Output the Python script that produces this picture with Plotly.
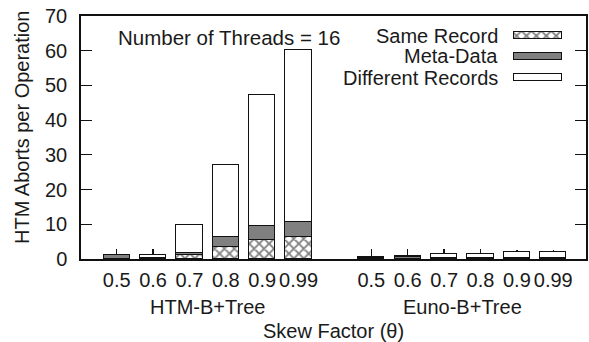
import plotly.graph_objects as go

# Skew factors for each index type
groups = ["HTM-B+Tree", "Euno-B+Tree"]
skew = ["0.5", "0.6", "0.7", "0.8", "0.9", "0.99"]

# HTM aborts per operation, split by cause (HTM-B+Tree then Euno-B+Tree)
same_record = [0.0, 0.1, 1.2, 3.6, 5.5, 6.3,
               0.0, 0.0, 0.0, 0.0, 0.0, 0.0]
meta_data = [1.1, 0.3, 0.6, 2.6, 4.1, 4.3,
             0.4, 0.5, 0.2, 0.2, 0.2, 0.2]
different_records = [0.0, 0.7, 8.0, 20.8, 37.7, 49.6,
                     0.1, 0.3, 1.1, 1.3, 1.7, 1.9]
# Upper error extent above each stacked total
err_up = [1.9, 1.7, 0.0, 0.0, 0.0, 0.0,
          2.5, 2.2, 1.7, 1.5, 0.8, 0.6]

series_names = ["Same Record", "Meta-Data", "Different Records"]

FONT = "Liberation Sans, Arial, Helvetica, sans-serif"
TXT = "#1a1a1a"
FS = 20

# x positions: one empty slot between the two groups
xpos = []
for g in range(len(groups)):
    for i in range(len(skew)):
        xpos.append(g * (len(skew) + 1) + i)
ticktext = skew * len(groups)

line = dict(color="#111111", width=1.5)
hatch = dict(shape="x", fgcolor="#000000", bgcolor="white", size=7, solidity=0.45)

fig = go.Figure()
fig.add_bar(x=xpos, y=same_record, name=series_names[0], width=0.72,
            marker=dict(color="white", line=line, pattern=hatch))
fig.add_bar(x=xpos, y=meta_data, name=series_names[1], width=0.72,
            marker=dict(color="#808080", line=line))
fig.add_bar(x=xpos, y=different_records, name=series_names[2], width=0.72,
            marker=dict(color="white", line=line),
            error_y=dict(type="data", symmetric=False, array=err_up,
                         arrayminus=[0] * len(err_up), color="#111111",
                         thickness=1.5, width=0))

# Legend with text on the left and swatch on the right, on overlay axes
sw_y = [0.918, 0.835, 0.745]
sw_fill = [dict(color="white", line=line, pattern=hatch),
           dict(color="#808080", line=line),
           dict(color="white", line=line)]
for yv, mk in zip(sw_y, sw_fill):
    fig.add_bar(x=[0.0947], y=[yv], base=[0.858], orientation="h", width=0.029,
                marker=mk, xaxis="x2", yaxis="y2", showlegend=False,
                hoverinfo="skip")

annotations = []
for name, yv in zip(series_names, sw_y):
    annotations.append(dict(text=name, x=0.830, y=yv, xref="paper", yref="paper",
                            xanchor="right", yanchor="middle", showarrow=False,
                            font=dict(size=FS, family=FONT, color=TXT)))
annotations.append(dict(text="Number of Threads = 16", x=0.294, y=0.91,
                        xref="paper", yref="paper", xanchor="center",
                        yanchor="middle", showarrow=False,
                        font=dict(size=20.5, family=FONT, color=TXT)))
for g, name in enumerate(groups):
    cx = g * (len(skew) + 1) + (len(skew) - 1) / 2
    annotations.append(dict(text=name, x=cx, y=-0.1975, xref="x", yref="paper",
                            xanchor="center", yanchor="middle", showarrow=False,
                            font=dict(size=FS, family=FONT, color=TXT)))
annotations.append(dict(text="Skew Factor (θ)", x=0.5, y=-0.296, xref="paper",
                        yref="paper", xanchor="center", yanchor="middle",
                        showarrow=False, font=dict(size=FS, family=FONT, color=TXT)))
annotations.append(dict(text="HTM Aborts per Operation", x=-0.118, y=0.541,
                        xref="paper", yref="paper", xanchor="center",
                        yanchor="middle", textangle=-90, showarrow=False,
                        font=dict(size=FS, family=FONT, color=TXT)))

fig.update_layout(
    width=589, height=342,
    margin=dict(l=81, r=1, t=16, b=83),
    paper_bgcolor="white", plot_bgcolor="white",
    barmode="stack", bargap=0, showlegend=False,
    font=dict(family=FONT, size=FS, color=TXT),
    annotations=annotations,
    xaxis=dict(range=[-0.98, 12.9], tickvals=xpos, ticktext=ticktext,
               ticks="", showgrid=False, zeroline=False, showline=True,
               linecolor="#111111", linewidth=1.5, mirror=True,
               ticklabelstandoff=2,
               tickfont=dict(size=FS, family=FONT, color=TXT)),
    yaxis=dict(range=[0, 70], dtick=10, ticks="inside", ticklen=11,
               tickwidth=1.2, tickcolor="#111111", showgrid=False,
               zeroline=False, showline=True, linecolor="#111111",
               linewidth=1.5, mirror="ticks", ticklabelstandoff=8,
               tickfont=dict(size=FS, family=FONT, color=TXT)),
    xaxis2=dict(overlaying="x", anchor="y2", range=[0, 1], visible=False),
    yaxis2=dict(overlaying="y", anchor="x2", range=[0, 1], visible=False),
)

fig.write_html("out.html")
